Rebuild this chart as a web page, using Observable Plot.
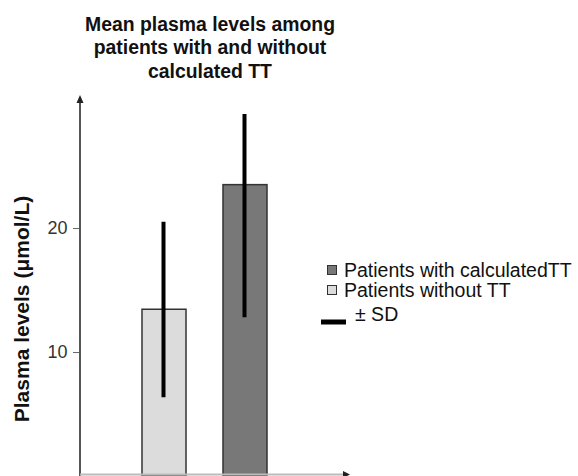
<!DOCTYPE html>
<html>
<head>
<meta charset="utf-8">
<script src="https://cdn.jsdelivr.net/npm/d3@7"></script>
<script src="https://cdn.jsdelivr.net/npm/@observablehq/plot@0.6"></script>
<style>
  html, body { margin: 0; padding: 0; background: #fff; }
  #chart svg { display: block; }
</style>
</head>
<body>
<div id="chart"></div>
<script>
// ---- data ----
const groups = ["Patients without TT", "Patients with calculatedTT"];
const means = [13.45, 23.5];
const sdLow = [6.35, 12.8];
const sdHigh = [20.5, 29.2];
const fills = ["#dcdcdc", "#787878"];
const yTicks = [10, 20];
const legendOrder = ["Patients with calculatedTT", "Patients without TT"];
const sdLabel = "\u00b1 SD";
const titleLines = ["Mean plasma levels among", "patients with and without", "calculated TT"];
const yLabel = "Plasma levels (\u03bcmol/L)";

const data = groups.map((g, i) => ({group: g, mean: means[i], low: sdLow[i], high: sdHigh[i], fill: fills[i]}));
const FONT = "'Liberation Sans', Arial, Helvetica, sans-serif";

function decorations(index, scales, values, dims) {
  const g = d3.create("svg:g").attr("font-family", FONT);
  const x0 = dims.marginLeft;
  const yb = scales.y(0);
  const yt = dims.marginTop;
  // y axis line with arrow
  g.append("line").attr("x1", x0).attr("x2", x0).attr("y1", yb).attr("y2", yt + 6)
    .attr("stroke", "#555").attr("stroke-width", 2);
  g.append("path").attr("d", `M${x0},${yt}L${x0 - 3.5},${yt + 8}L${x0 + 3.5},${yt + 8}Z`).attr("fill", "#222");
  // x axis line with arrow
  const xr = 350, ya = yb - 1.5;
  g.append("line").attr("x1", x0).attr("x2", xr - 5).attr("y1", ya).attr("y2", ya)
    .attr("stroke", "#bbb").attr("stroke-width", 2);
  g.append("path").attr("d", `M${xr},${ya}L${xr - 7},${ya - 3.5}L${xr - 7},${ya + 3.5}Z`).attr("fill", "#222");

  // title
  const t = g.append("text").attr("text-anchor", "middle").attr("font-weight", "bold")
    .attr("font-size", 19.4).attr("fill", "#111");
  titleLines.forEach((s, i) => t.append("tspan").attr("x", 210).attr("y", 31 + i * 23.4).text(s));

  // y label
  g.append("text").attr("transform", "translate(29,309) rotate(-90)")
    .attr("text-anchor", "middle").attr("font-weight", "bold").attr("font-size", 21)
    .attr("fill", "#111").text(yLabel);

  // legend
  legendOrder.forEach((name, i) => {
    const cy = 270 + i * 20;
    const f = fills[groups.indexOf(name)];
    g.append("rect").attr("x", 327.5).attr("y", cy - 4.5).attr("width", 9).attr("height", 9)
      .attr("fill", f).attr("stroke", "#333").attr("stroke-width", 1);
    g.append("text").attr("x", 344).attr("y", cy + 7).attr("text-anchor", "start")
      .attr("font-size", 19.5).attr("fill", "#111").text(name);
  });
  g.append("line").attr("x1", 321).attr("x2", 346).attr("y1", 322).attr("y2", 322)
    .attr("stroke", "#000").attr("stroke-width", 5);
  g.append("text").attr("x", 355).attr("y", 321).attr("text-anchor", "start")
    .attr("font-size", 19.5).attr("fill", "#111").text(sdLabel);
  return g.node();
}

const chart = Plot.plot({
  width: 578,
  height: 476,
  marginLeft: 80,
  marginRight: 0,
  marginTop: 95,
  marginBottom: 0,
  style: {fontFamily: FONT, background: "#fff", color: "#333"},
  x: {domain: groups, range: [142, 267], paddingInner: 0.457, paddingOuter: 0, axis: null},
  y: {domain: [0, 30.73], axis: null},
  color: {type: "identity"},
  marks: [
    Plot.barY(data, {x: "group", y: "mean", fill: "fill", stroke: "#333", strokeWidth: 1.5}),
    Plot.ruleX(data, {x: "group", y1: "low", y2: "high", stroke: "#000", strokeWidth: 4, dx: -1}),
    Plot.axisY({ticks: yTicks, tickSize: 7, tickPadding: 6, fontSize: 18, label: null, stroke: "#666", fill: "#333"}),
    decorations
  ]
});
document.getElementById("chart").appendChild(chart);
</script>
</body>
</html>
